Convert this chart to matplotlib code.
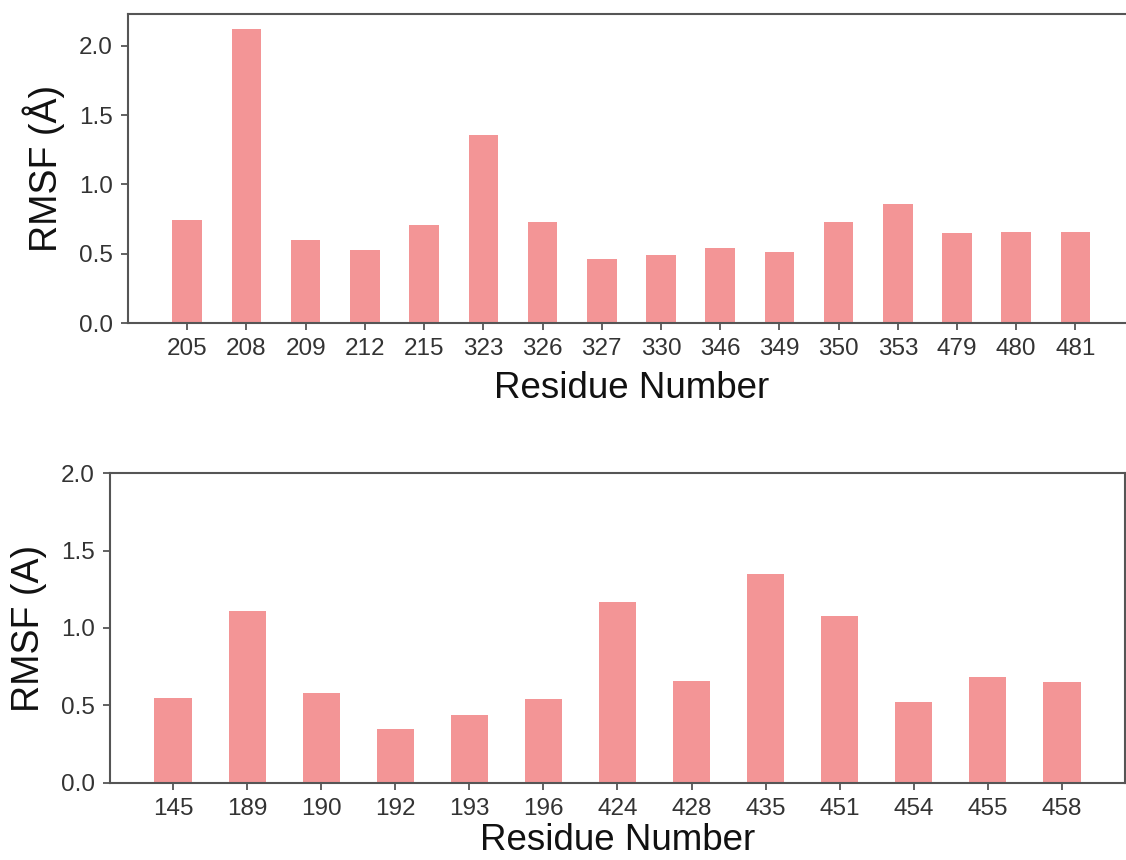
import matplotlib.pyplot as plt

plt.rcParams['font.family'] = ['Liberation Sans', 'DejaVu Sans']

# top panel
residues_top = ["205", "208", "209", "212", "215", "323", "326", "327",
                "330", "346", "349", "350", "353", "479", "480", "481"]
rmsf_top = [0.74, 2.12, 0.60, 0.53, 0.71, 1.36, 0.73, 0.46,
            0.49, 0.54, 0.51, 0.73, 0.86, 0.65, 0.66, 0.66]

# bottom panel
residues_bottom = ["145", "189", "190", "192", "193", "196", "424",
                   "428", "435", "451", "454", "455", "458"]
rmsf_bottom = [0.55, 1.11, 0.58, 0.35, 0.44, 0.54, 1.17,
               0.66, 1.35, 1.08, 0.52, 0.68, 0.65]

bar_color = '#F39596'
spine_color = '#555555'
text_color = '#333333'

fig = plt.figure(figsize=(11.26, 8.6), dpi=100)
ax1 = fig.add_axes([0.1137, 0.6244, 0.894, 0.3593])
ax2 = fig.add_axes([0.0977, 0.0899, 0.9014, 0.3598])


def style_axis(ax, labels, values, xlim, ylim, ylabel, xpad):
    x = range(len(values))
    ax.bar(x, values, width=0.5, color=bar_color)
    ax.set_xticks(list(x))
    ax.set_xticklabels(labels)
    ax.set_xlim(*xlim)
    ax.set_ylim(*ylim)
    ax.set_yticks([0.0, 0.5, 1.0, 1.5, 2.0])
    ax.set_yticklabels(["0.0", "0.5", "1.0", "1.5", "2.0"])
    for s in ax.spines.values():
        s.set_color(spine_color)
        s.set_linewidth(1.5)
    ax.tick_params(axis='both', direction='out', length=5, width=1.3,
                   color=spine_color, labelsize=17.5, labelcolor=text_color, pad=6)
    ax.set_xlabel("Residue Number", fontsize=26.5, color='#111111', labelpad=xpad)
    ax.set_ylabel(ylabel, fontsize=27, color='#111111', labelpad=10)


style_axis(ax1, residues_top, rmsf_top, (-1.0, 16.0), (0, 2.23), "RMSF (Å)", 8)
ax1.spines['right'].set_visible(False)
style_axis(ax2, residues_bottom, rmsf_bottom, (-0.85, 12.85), (0, 2.0), "RMSF (A)", 2)

fig.savefig("out.png", dpi=100)
